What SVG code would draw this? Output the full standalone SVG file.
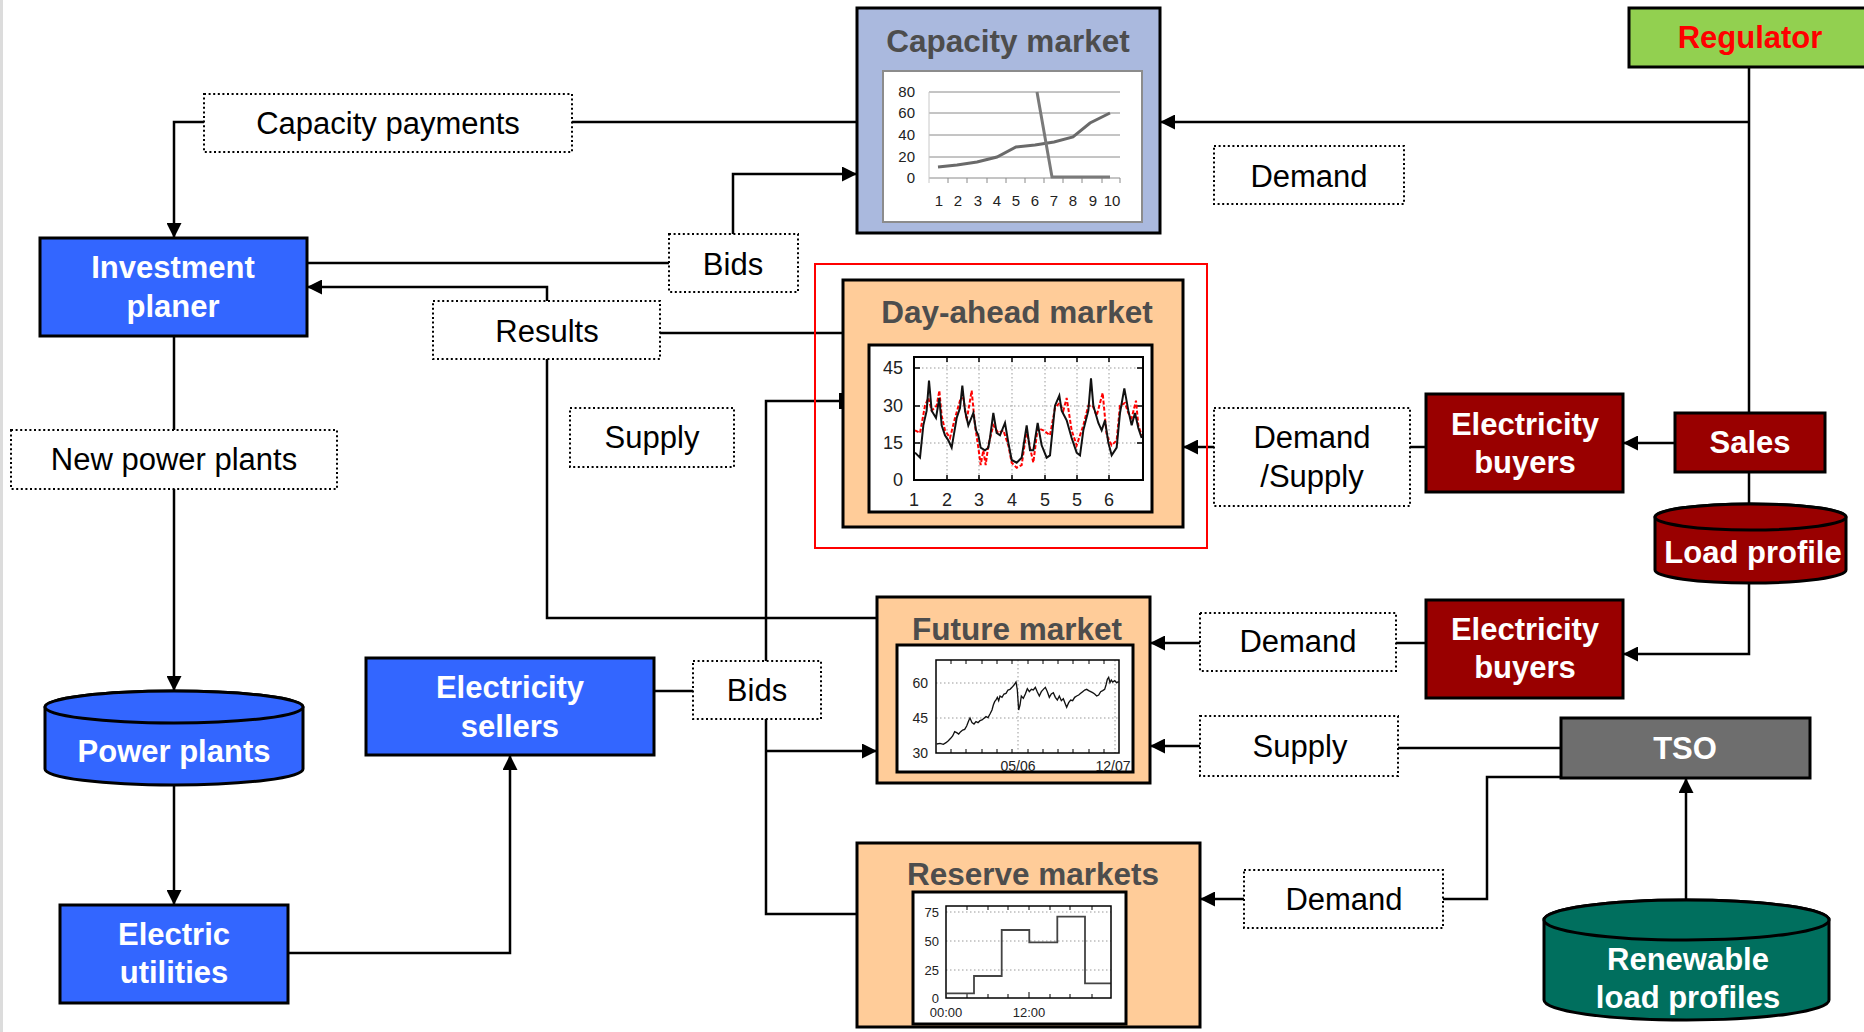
<svg xmlns="http://www.w3.org/2000/svg" width="1864" height="1032" viewBox="0 0 1864 1032">
  <style>
    text { font-family: "Liberation Sans", Arial, sans-serif; }
    .lbl { font-size: 31px; text-anchor: middle; fill: #000; }
    .ttl { font-size: 31.5px; font-weight: bold; text-anchor: middle; fill: #4d4d4d; }
    .wt { font-size: 31px; font-weight: bold; text-anchor: middle; fill: #fff; }
    .dot { fill: #fff; stroke: #000; stroke-width: 2; stroke-dasharray: 2 2.6; }
    .box { stroke: #000; stroke-width: 3; }
    .con { fill: none; stroke: #000; stroke-width: 2.5; }
    .arr { marker-end: url(#ah); }
    .num { fill: #222; }
    .grid { stroke: #999; stroke-width: 1; stroke-dasharray: 1.5 2.5; fill: none; }
  </style>
  <defs>
    <marker id="ah" viewBox="0 0 10 10" refX="10" refY="5" markerUnits="userSpaceOnUse" markerWidth="15" markerHeight="15" orient="auto">
      <path d="M0,0 L10,5 L0,10 z" fill="#000"/>
    </marker>
  </defs>

  <rect x="0" y="0" width="1864" height="1032" fill="#fff"/>
  <rect x="0" y="0" width="3" height="1032" fill="#dcdcdc"/>

  <!-- connectors -->
  <g id="connectors">
    <path class="con" d="M1749 67 V413"/>
    <path class="con arr" d="M1749 122 H1160"/>
    <path class="con" d="M857 122 H572"/>
    <path class="con arr" d="M204 122 H174 V238"/>
    <path class="con" d="M307 263 H669"/>
    <path class="con arr" d="M733 234 V174 H857"/>
    <path class="con arr" d="M547 301 V287 H307"/>
    <path class="con" d="M660 333 H843"/>
    <path class="con" d="M547 359 V618 H877"/>
    <path class="con" d="M766 661 V401 H843"/>
    <rect x="839" y="393" width="5" height="16" fill="#000"/>
    <path class="con" d="M693 691 H654"/>
    <path class="con" d="M766 719 V914 H857"/>
    <path class="con arr" d="M766 751 H877"/>
    <path class="con arr" d="M288 953 H510 V755"/>
    <path class="con" d="M174 336 V430"/>
    <path class="con arr" d="M174 489 V691"/>
    <path class="con arr" d="M174 785 V905"/>
    <path class="con arr" d="M1675 443 H1623"/>
    <path class="con" d="M1749 472 V504"/>
    <path class="con arr" d="M1749 583 V654 H1623"/>
    <path class="con" d="M1426 447 H1410"/>
    <path class="con arr" d="M1214 447 H1183"/>
    <path class="con" d="M1426 643 H1396"/>
    <path class="con arr" d="M1200 643 H1150"/>
    <path class="con" d="M1561 748 H1398"/>
    <path class="con arr" d="M1200 746 H1150"/>
    <path class="con" d="M1561 777 H1487 V899 H1443"/>
    <path class="con arr" d="M1244 899 H1200"/>
    <path class="con arr" d="M1686 900 V778"/>
  </g>

  <!-- Capacity market -->
  <g id="capacity-market">
    <rect class="box" x="857" y="8" width="303" height="225" fill="#AAB9DE"/>
    <text class="ttl" x="1008" y="52">Capacity market</text>
    <rect x="883" y="71" width="259" height="151" fill="#fff" stroke="#8c8c8c" stroke-width="2"/>
    <g stroke="#8a8a8a" stroke-width="1">
      <line x1="929" y1="92" x2="1120" y2="92"/>
      <line x1="929" y1="113" x2="1120" y2="113"/>
      <line x1="929" y1="135" x2="1120" y2="135"/>
      <line x1="929" y1="157" x2="1120" y2="157"/>
      <line x1="929" y1="178" x2="1120" y2="178"/>
      <line x1="929" y1="92" x2="929" y2="183" stroke="#c8c8c8"/>
      <path d="M948 178v5M967 178v5M987 178v5M1006 178v5M1025 178v5M1044 178v5M1063 178v5M1082 178v5M1102 178v5M1120 178v5"/>
    </g>
    <g class="num" text-anchor="end" font-size="15">
      <text x="915" y="97">80</text>
      <text x="915" y="118">60</text>
      <text x="915" y="140">40</text>
      <text x="915" y="162">20</text>
      <text x="915" y="183">0</text>
    </g>
    <g class="num" text-anchor="middle" font-size="15">
      <text x="939" y="206">1</text><text x="958" y="206">2</text><text x="978" y="206">3</text>
      <text x="997" y="206">4</text><text x="1016" y="206">5</text><text x="1035" y="206">6</text>
      <text x="1054" y="206">7</text><text x="1073" y="206">8</text><text x="1093" y="206">9</text>
      <text x="1112" y="206">10</text>
    </g>
    <polyline fill="none" stroke="#6a6a6a" stroke-width="3" points="938,167 957,165 977,162 997,157 1016,147 1035,145 1054,142 1073,137 1090,123 1110,113"/>
    <polyline fill="none" stroke="#7a7a7a" stroke-width="3" points="1037,92 1052,177 1110,177"/>
  </g>

  <!-- Regulator -->
  <g id="regulator">
    <rect class="box" x="1629" y="8" width="240" height="59" fill="#92D050"/>
    <text x="1750" y="48" font-size="31" font-weight="bold" text-anchor="middle" fill="#FF0000">Regulator</text>
  </g>

  <!-- Label boxes -->
  <g id="capacity-payments">
    <rect class="dot" x="204" y="94" width="368" height="58"/>
    <text class="lbl" x="388" y="134">Capacity payments</text>
  </g>
  <g id="demand-capacity">
    <rect class="dot" x="1214" y="146" width="190" height="58"/>
    <text class="lbl" x="1309" y="187">Demand</text>
  </g>
  <g id="bids-top">
    <rect class="dot" x="669" y="234" width="129" height="58"/>
    <text class="lbl" x="733" y="275">Bids</text>
  </g>
  <g id="results">
    <rect class="dot" x="433" y="301" width="227" height="58"/>
    <text class="lbl" x="547" y="342">Results</text>
  </g>
  <g id="supply-floating">
    <rect class="dot" x="570" y="408" width="164" height="59"/>
    <text class="lbl" x="652" y="448">Supply</text>
  </g>
  <g id="new-power-plants">
    <rect class="dot" x="11" y="430" width="326" height="59"/>
    <text class="lbl" x="174" y="470">New power plants</text>
  </g>
  <g id="bids-bottom">
    <rect class="dot" x="693" y="661" width="128" height="58"/>
    <text class="lbl" x="757" y="701">Bids</text>
  </g>
  <g id="demand-supply">
    <rect class="dot" x="1214" y="408" width="196" height="98"/>
    <text class="lbl" x="1312" y="448">Demand</text>
    <text class="lbl" x="1312" y="487">/Supply</text>
  </g>
  <g id="demand-future">
    <rect class="dot" x="1200" y="613" width="196" height="58"/>
    <text class="lbl" x="1298" y="652">Demand</text>
  </g>
  <g id="supply-future">
    <rect class="dot" x="1200" y="716" width="198" height="60"/>
    <text class="lbl" x="1300" y="757">Supply</text>
  </g>
  <g id="demand-reserve">
    <rect class="dot" x="1244" y="870" width="199" height="58"/>
    <text class="lbl" x="1344" y="910">Demand</text>
  </g>

  <!-- Blue actors -->
  <g id="investment-planer">
    <rect class="box" x="40" y="238" width="267" height="98" fill="#3366FF"/>
    <text class="wt" x="173" y="278">Investment</text>
    <text class="wt" x="173" y="317">planer</text>
  </g>
  <g id="electricity-sellers">
    <rect class="box" x="366" y="658" width="288" height="97" fill="#3366FF"/>
    <text class="wt" x="510" y="698">Electricity</text>
    <text class="wt" x="510" y="737">sellers</text>
  </g>
  <g id="electric-utilities">
    <rect class="box" x="60" y="905" width="228" height="98" fill="#3366FF"/>
    <text class="wt" x="174" y="945">Electric</text>
    <text class="wt" x="174" y="983">utilities</text>
  </g>
  <g id="power-plants">
    <path class="box" d="M45 707 V769 A129 16 0 0 0 303 769 V707 A129 16 0 0 0 45 707 Z" fill="#3366FF"/>
    <ellipse class="box" cx="174" cy="707" rx="129" ry="16" fill="#3366FF"/>
    <text class="wt" x="174" y="762">Power plants</text>
  </g>

  <!-- Red actors -->
  <g id="electricity-buyers-1">
    <rect class="box" x="1426" y="394" width="197" height="98" fill="#990000"/>
    <text class="wt" x="1525" y="435">Electricity</text>
    <text class="wt" x="1525" y="473">buyers</text>
  </g>
  <g id="sales">
    <rect class="box" x="1675" y="413" width="150" height="59" fill="#990000"/>
    <text class="wt" x="1750" y="453">Sales</text>
  </g>
  <g id="load-profile">
    <path class="box" d="M1655 517 V570 A95.5 13 0 0 0 1846 570 V517 A95.5 13 0 0 0 1655 517 Z" fill="#990000"/>
    <ellipse class="box" cx="1750.5" cy="517" rx="95.5" ry="13" fill="#990000"/>
    <text class="wt" x="1753" y="563">Load profile</text>
  </g>
  <g id="electricity-buyers-2">
    <rect class="box" x="1426" y="600" width="197" height="98" fill="#990000"/>
    <text class="wt" x="1525" y="640">Electricity</text>
    <text class="wt" x="1525" y="678">buyers</text>
  </g>

  <!-- TSO and renewables -->
  <g id="tso">
    <rect class="box" x="1561" y="718" width="249" height="60" fill="#6E6E6E"/>
    <text class="wt" x="1685" y="759">TSO</text>
  </g>
  <g id="renewable-load-profiles">
    <path class="box" d="M1544 920 V1000 A142.5 20 0 0 0 1829 1000 V920 A142.5 20 0 0 0 1544 920 Z" fill="#006F5E"/>
    <ellipse class="box" cx="1686.5" cy="920" rx="142.5" ry="20" fill="#006F5E"/>
    <text class="wt" x="1688" y="970">Renewable</text>
    <text class="wt" x="1688" y="1008">load profiles</text>
  </g>

  <!-- Day-ahead market -->
  <g id="day-ahead-market">
    <rect x="815" y="264" width="392" height="284" fill="none" stroke="#FF0000" stroke-width="2"/>
    <rect class="box" x="843" y="280" width="340" height="247" fill="#FFCC99"/>
    <text class="ttl" x="1017" y="323">Day-ahead market</text>
    <rect x="869" y="345" width="283" height="167" fill="#fff" stroke="#000" stroke-width="3"/>
    <g class="grid">
      <path d="M914 368 H1143 M914 406 H1143 M914 443 H1143"/>
      <path d="M947 357 V480 M979 357 V480 M1012 357 V480 M1045 357 V480 M1077 357 V480 M1109 357 V480"/>
    </g>
    <g stroke="#000" stroke-width="1.5">
      <path d="M947 357v5M979 357v5M1012 357v5M1045 357v5M1077 357v5M1109 357v5"/>
      <path d="M947 480v-5M979 480v-5M1012 480v-5M1045 480v-5M1077 480v-5M1109 480v-5"/>
      <path d="M914 368h6M914 406h6M914 443h6M1143 368h-6M1143 406h-6M1143 443h-6"/>
    </g>
    <g transform="translate(810 260) scale(0.33333)" fill="none">
      <polyline stroke="#FF0000" stroke-width="6" stroke-dasharray="12 6" points="315,511 330,519 345,437 355,414 365,452 380,437 388,392 395,467 405,511 420,534 435,474 450,422 460,414 470,481 485,392 495,496 505,563 512,615 520,571 527,615 535,556 550,496 565,519 580,511 595,556 605,608 620,623 635,615 650,511 660,563 670,608 683,504 700,511 720,526 735,444 748,429 760,452 770,414 785,511 800,556 820,496 835,437 848,437 860,467 878,399 890,526 905,556 920,541 930,437 945,429 955,459 965,474 978,422 985,496 995,526"/>
      <polyline stroke="#111" stroke-width="6" points="315,578 330,593 340,496 350,452 357,362 365,452 378,474 388,414 395,496 405,526 415,541 425,563 440,474 450,444 457,377 465,452 475,496 490,459 498,511 505,526 512,563 525,571 535,563 540,534 550,459 560,519 570,526 585,489 595,548 605,600 620,608 635,593 650,496 660,571 670,571 683,489 695,556 710,593 720,586 735,437 748,407 755,452 770,481 785,534 800,578 810,586 820,511 835,452 843,355 850,437 865,489 875,511 885,481 895,548 905,586 920,563 930,459 943,385 955,452 965,496 975,459 985,504 995,534"/>
    </g>
    <rect x="914" y="357" width="229" height="123" fill="none" stroke="#000" stroke-width="2"/>
    <g class="num" font-size="18" text-anchor="end">
      <text x="903" y="374">45</text>
      <text x="903" y="412">30</text>
      <text x="903" y="449">15</text>
      <text x="903" y="486">0</text>
    </g>
    <g class="num" font-size="18" text-anchor="middle">
      <text x="914" y="506">1</text><text x="947" y="506">2</text><text x="979" y="506">3</text>
      <text x="1012" y="506">4</text><text x="1045" y="506">5</text><text x="1077" y="506">5</text>
      <text x="1109" y="506">6</text>
    </g>
  </g>

  <!-- Future market -->
  <g id="future-market">
    <rect class="box" x="877" y="597" width="273" height="186" fill="#FFCC99"/>
    <text class="ttl" x="1017" y="640">Future market</text>
    <rect x="897" y="645" width="236" height="127" fill="#fff" stroke="#000" stroke-width="3"/>
    <g class="grid">
      <path d="M936 683 H1119 M936 718 H1119 M1018 660 V753 M1115 660 V753"/>
    </g>
    <g stroke="#000" stroke-width="1">
      <path d="M951 660v4M966 660v4M982 660v4M997 660v4M1012 660v4M1028 660v4M1043 660v4M1058 660v4M1073 660v4M1089 660v4M1104 660v4"/>
      <path d="M951 753v-4M966 753v-4M982 753v-4M997 753v-4M1012 753v-4M1028 753v-4M1043 753v-4M1058 753v-4M1073 753v-4M1089 753v-4M1104 753v-4"/>
    </g>
    <g transform="translate(860 590) scale(0.33333)">
      <polyline fill="none" stroke="#111" stroke-width="4" points="230,462 240,460 250,463 258,458 265,452 272,445 278,438 284,425 290,428 296,432 302,425 308,420 314,418 320,408 326,392 330,384 336,398 342,402 348,395 354,398 360,392 366,390 372,385 378,380 384,383 390,372 396,360 400,345 404,335 408,330 412,322 416,332 420,318 426,322 432,312 438,310 444,300 450,298 456,292 462,285 468,276 472,300 476,360 480,345 484,318 490,325 496,312 502,296 508,305 514,298 520,300 526,292 532,306 538,318 544,305 550,298 556,292 562,305 568,322 574,312 580,308 586,322 592,330 598,318 604,332 610,326 616,342 620,352 626,338 632,330 638,332 644,322 650,318 656,315 662,310 668,305 674,300 680,298 686,302 692,305 698,308 704,312 710,318 716,315 722,305 728,302 734,298 738,285 742,268 746,262 750,278 754,270 758,276 764,272 770,278 776,275"/>
    </g>
    <rect x="936" y="660" width="183" height="93" fill="none" stroke="#000" stroke-width="1.5"/>
    <g class="num" font-size="14" text-anchor="end">
      <text x="928" y="688">60</text>
      <text x="928" y="723">45</text>
      <text x="928" y="758">30</text>
    </g>
    <g class="num" font-size="14" text-anchor="middle">
      <text x="1018" y="771">05/06</text>
      <text x="1113" y="771">12/07</text>
    </g>
  </g>

  <!-- Reserve markets -->
  <g id="reserve-markets">
    <rect class="box" x="857" y="843" width="343" height="184" fill="#FFCC99"/>
    <text class="ttl" x="1033" y="885">Reserve markets</text>
    <rect x="913" y="892" width="213" height="132" fill="#fff" stroke="#000" stroke-width="3"/>
    <g class="grid">
      <path d="M946 912 H1111 M946 941 H1111 M946 970 H1111"/>
    </g>
    <g stroke="#000" stroke-width="1">
      <path d="M967 906v4M988 906v4M1008 906v4M1029 906v4M1050 906v4M1070 906v4M1092 906v4"/>
      <path d="M967 998v-4M988 998v-4M1008 998v-4M1029 998v-6M1050 998v-4M1070 998v-4M1092 998v-4"/>
    </g>
    <polyline fill="none" stroke="#444" stroke-width="1.8" points="946.7,993.3 974,993.3 974,976 1001.7,976 1001.7,930 1029.3,930 1029.3,942.3 1057.3,942.3 1057.3,916.7 1085,916.7 1085,983.3 1110.7,983.3"/>
    <rect x="946" y="906" width="165" height="92" fill="none" stroke="#000" stroke-width="1.5"/>
    <g class="num" font-size="13" text-anchor="end">
      <text x="939" y="917">75</text>
      <text x="939" y="946">50</text>
      <text x="939" y="975">25</text>
      <text x="939" y="1003">0</text>
    </g>
    <g class="num" font-size="13" text-anchor="middle">
      <text x="946" y="1017">00:00</text>
      <text x="1029" y="1017">12:00</text>
    </g>
  </g>
</svg>
